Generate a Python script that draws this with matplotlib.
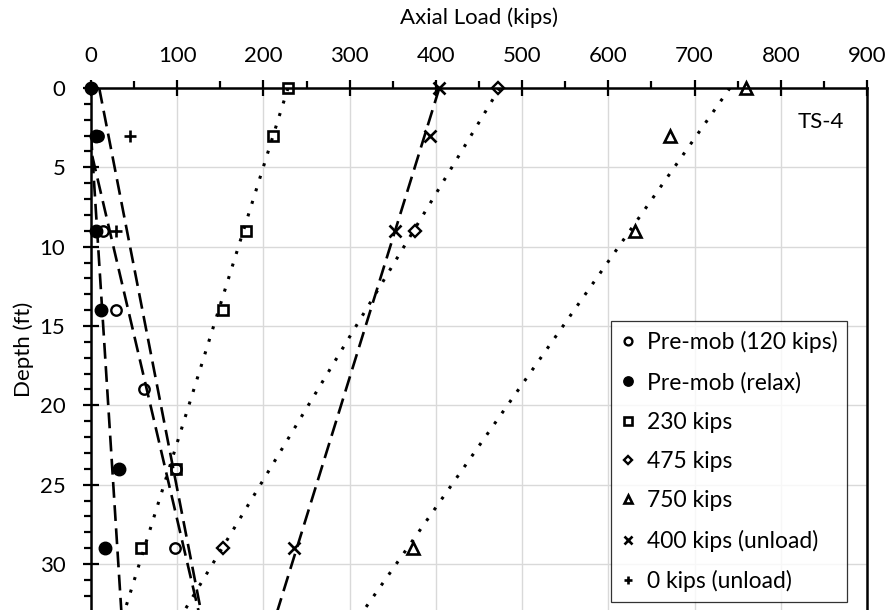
import matplotlib.pyplot as plt
import numpy as np
from matplotlib.ticker import MultipleLocator

plt.rcParams["font.family"] = ["Lato", "DejaVu Sans"]

# depths of the strain gauges (ft) and the measured axial loads (kips)
premob_d = [0, 3, 9, 14, 19, 24, 29]
premob_x = [0, 8, 14, 29, 61, 99, 97]
relax_d = [0, 3, 9, 14, 24, 29]
relax_x = [0, 6, 6, 12, 32, 16]
k230_d = [0, 3, 9, 14, 24, 29]
k230_x = [229, 211, 180, 153, 99, 58]
k475_d = [0, 9, 29]
k475_x = [472, 376, 153]
k750_d = [0, 3, 9, 29]
k750_x = [760, 671, 631, 374]
unl400_d = [0, 3, 9, 29]
unl400_x = [404, 393, 353, 236]
unl0_d = [0, 3, 9]
unl0_x = [0, 45, 29]

labels = ["Pre-mob (120 kips)", "Pre-mob (relax)", "230 kips", "475 kips",
          "750 kips", "400 kips (unload)", "0 kips (unload)"]

# trend lines: load at 0 ft (kips) and change per ft
trend_x0 = [-17, -3.4, 228.5, 474, 741, 404, 9.5]
trend_slope = [4.3, 1.17, -5.75, -11.1, -12.9, -5.7, 3.58]
trend_style = ["dash", "dash", "dot", "dot", "dot", "dash", "dash"]


def main():
    fig = plt.figure(figsize=(8.86, 6.10), dpi=100)
    ax = fig.add_axes([91 / 886, 0, (867 - 91) / 886, (610 - 88) / 610])

    series = [
        (premob_d, premob_x, dict(marker="o", ms=7.5, mfc="none", mew=1.7)),
        (relax_d, relax_x, dict(marker="o", ms=9, mfc="black", mew=1.0)),
        (k230_d, k230_x, dict(marker="s", ms=7.5, mfc="none", mew=1.9)),
        (k475_d, k475_x, dict(marker="D", ms=6, mfc="none", mew=1.7)),
        (k750_d, k750_x, dict(marker="^", ms=8, mfc="none", mew=1.9)),
        (unl400_d, unl400_x, dict(marker="x", ms=8, mew=1.9)),
        (unl0_d, unl0_x, dict(marker="+", ms=8, mew=1.9)),
    ]
    for (d, x, style), lab in zip(series, labels):
        ax.plot(x, d, ls="none", color="black", mec="black", label=lab,
                clip_on=False, zorder=3, **style)

    dd = np.array([0, 40])
    for x0, s, st in zip(trend_x0, trend_slope, trend_style):
        if st == "dash":
            ax.plot(x0 + s * dd, dd, color="black", lw=1.9, dashes=(6, 2.8), zorder=4)
        else:
            ax.plot(x0 + s * dd, dd, color="black", lw=2.2, ls=(0, (1, 3.3)), zorder=4)

    ax.set_xlim(0, 900)
    ax.set_ylim(32.9, 0)
    ax.xaxis.tick_top()
    ax.xaxis.set_label_position("top")
    ax.xaxis.set_major_locator(MultipleLocator(100))
    ax.xaxis.set_minor_locator(MultipleLocator(50))
    ax.yaxis.set_major_locator(MultipleLocator(5))
    ax.yaxis.set_minor_locator(MultipleLocator(1))
    ax.tick_params(which="major", direction="inout", length=12, width=1.6,
                   labelsize=16, colors="black")
    ax.tick_params(which="minor", direction="out", length=5, width=1.6)
    ax.tick_params(axis="x", which="major", pad=10)
    ax.tick_params(axis="y", which="major", pad=12.5)
    ax.tick_params(axis="x", which="both", top=True, bottom=False)
    ax.tick_params(axis="y", which="both", left=True, right=False)

    ax.grid(True, which="major", color="#d9d9d9", lw=1.0)
    ax.set_axisbelow(True)
    for side in ["top", "left", "right"]:
        ax.spines[side].set_linewidth(1.8)
        ax.spines[side].set_color("black")
    ax.spines["bottom"].set_visible(False)

    ax.set_xlabel("Axial Load (kips)", fontsize=16, labelpad=16)
    ax.set_ylabel("Depth (ft)", fontsize=16, labelpad=4)

    ax.text(0.94, 0.935, "TS-4", transform=ax.transAxes, ha="center",
            va="center", fontsize=16)

    leg = ax.legend(loc="upper left", bbox_to_anchor=(611 / 886, 1 - 321 / 610),
                    bbox_transform=fig.transFigure, fontsize=16.5, markerscale=0.75,
                    frameon=True, fancybox=False, edgecolor="black",
                    borderpad=0.45, labelspacing=0.8, handlelength=0.6,
                    handletextpad=0.5, borderaxespad=0)
    leg.get_frame().set_linewidth(0.9)

    fig.savefig("out.png", dpi=100)


if __name__ == "__main__":
    main()
